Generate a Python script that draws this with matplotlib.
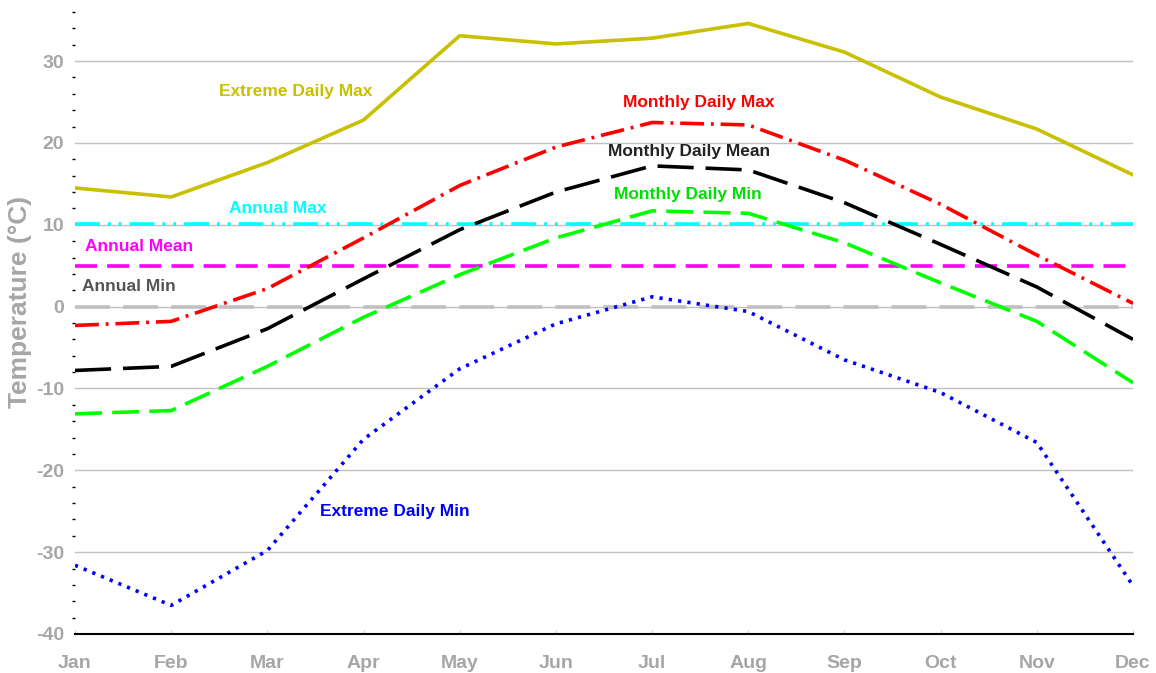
import numpy as np
import matplotlib.pyplot as plt
from matplotlib.ticker import MultipleLocator

months = ['Jan', 'Feb', 'Mar', 'Apr', 'May', 'Jun', 'Jul', 'Aug', 'Sep', 'Oct', 'Nov', 'Dec']

extreme_max = [14.5, 13.4, 17.6, 22.8, 33.1, 32.1, 32.8, 34.6, 31.1, 25.6, 21.7, 16.1]
monthly_max = [-2.3, -1.8, 2.2, 8.4, 14.8, 19.5, 22.5, 22.2, 17.9, 12.5, 6.3, 0.4]
monthly_mean = [-7.8, -7.3, -2.7, 3.4, 9.4, 14.0, 17.2, 16.7, 12.7, 7.6, 2.4, -4.0]
monthly_min = [-13.1, -12.7, -7.3, -1.3, 3.9, 8.4, 11.7, 11.4, 7.8, 2.9, -1.8, -9.3]
extreme_min = [-31.6, -36.5, -29.8, -16.2, -7.6, -2.1, 1.2, -0.6, -6.5, -10.5, -16.6, -34.1]

annual_max = 10.1
annual_mean = 5.0
annual_min = 0.0

plt.rcParams['font.family'] = ['Liberation Sans', 'DejaVu Sans']
plt.rcParams['font.weight'] = 'bold'
plt.rcParams['axes.unicode_minus'] = False

fig = plt.figure(figsize=(11.56, 6.73), dpi=100)
ax = fig.add_axes([75/1156, 1 - 634/673, (1133 - 75)/1156, (634 - 12)/673])

x = np.arange(len(months))
lw = 2.6

ax.axhline(annual_min, color='#c0c0c0', lw=lw, dashes=(9.7, 3.6), zorder=2)
ax.axhline(annual_mean, color='#ff00ff', lw=lw, dashes=(6.1, 2.8), zorder=2)
ax.axhline(annual_max, color='#00ffff', lw=lw, dashes=(6.9, 2.2, 0.8, 2.2, 0.8, 2.2), zorder=2)

ax.plot(x, extreme_max, color='#c8c000', lw=lw, solid_joinstyle='miter', zorder=3)
ax.plot(x, monthly_max, color='#ff0000', lw=lw, dashes=(6.6, 1.9, 0.8, 1.9), zorder=3)
ax.plot(x, monthly_mean, color='#000000', lw=lw, dashes=(10, 3.3), zorder=3)
ax.plot(x, monthly_min, color='#00ff00', lw=lw, dashes=(7.5, 2.8), zorder=3)
ax.plot(x, extreme_min, color='#0000ff', lw=lw, dashes=(0.9, 1.7), zorder=3)

# series labels
fs = 12.5
lab = dict(fontsize=fs, fontweight='bold', ha='center', va='center')
ax.text(2.29, 26.25, 'Extreme Daily Max', color='#c8c000', **lab)
ax.text(6.48, 25.0, 'Monthly Daily Max', color='#ff0000', **lab)
ax.text(6.38, 19.0, 'Monthly Daily Mean', color='#222222', **lab)
ax.text(6.37, 13.7, 'Monthly Daily Min', color='#00e000', **lab)
ax.text(2.11, 11.95, 'Annual Max', color='#00ffff', **lab)
ax.text(0.665, 7.3, 'Annual Mean', color='#ff00ff', **lab)
ax.text(0.56, 2.4, 'Annual Min', color='#555555', **lab)
ax.text(3.33, -25.0, 'Extreme Daily Min', color='#0000ff', **lab)

ax.set_xlim(0, 11)
ax.set_ylim(-40, 36)
ax.set_xticks(x)
ax.set_xticklabels(months)
ax.yaxis.set_major_locator(MultipleLocator(10))
ax.yaxis.set_minor_locator(MultipleLocator(2))

ax.grid(axis='y', which='major', color='#c0c0c0', lw=1, zorder=0)
ax.set_axisbelow(True)

for s in ['top', 'right', 'left']:
    ax.spines[s].set_visible(False)
ax.spines['bottom'].set_color('black')
ax.spines['bottom'].set_linewidth(1.5)

ax.tick_params(axis='y', which='major', length=0, labelsize=14, labelcolor='#a6a6a6', pad=8)
ax.tick_params(axis='y', which='minor', length=2, width=1, color='black', direction='out')
ax.tick_params(axis='x', length=3, color='#d0d0d0', direction='in', labelsize=14,
               labelcolor='#a6a6a6', pad=15)
for t in ax.get_xticklabels() + ax.get_yticklabels():
    t.set_fontweight('bold')

ax.set_ylabel('Temperature (°C)', fontsize=19, fontweight='bold', color='#a6a6a6')
ax.yaxis.set_label_coords(-0.041, 0.534)

fig.savefig('out.png', dpi=100)
